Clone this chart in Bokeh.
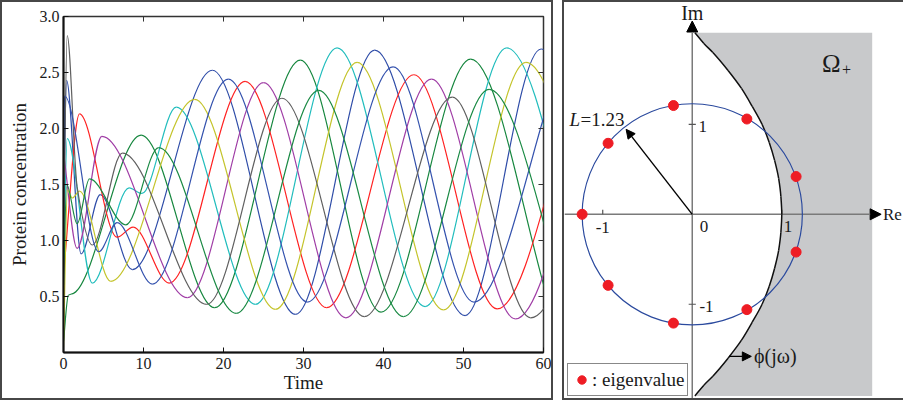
import numpy as np
from bokeh.plotting import figure
from bokeh.layouts import row
from bokeh.models import (Arrow, NormalHead, Legend, LegendItem, FixedTicker,
                          Range1d, NumeralTickFormatter)
from bokeh.core.properties import value
from bokeh.embed import file_html
from bokeh.resources import INLINE

FONT = "Liberation Serif"

# ---------------- left panel data (extrema) ----------------
time_ticks = [0, 10, 20, 30, 40, 50, 60]
conc_ticks = [0.5, 1.0, 1.5, 2.0, 2.5, 3.0]

blue1_t = [0, 0.38, 2.2, 4.6, 8.6, 18.6, 29.0, 38.9, 50.2, 59.7, 70.5]
blue1_y = [1.2, 2.43, 0.88, 1.41, 0.74, 2.52, 0.34, 2.70, 0.33, 2.71, 0.33]

greenA_t = [0, 0.6, 1.3, 9.7, 18.9, 29.6, 39.7, 50.9, 61.0]
greenA_y = [0.1, 0.51, 0.53, 1.94, 0.40, 2.61, 0.36, 2.62, 0.36]

red_t = [0, 2.0, 6.7, 8.7, 13.2, 22.7, 32.9, 43.8, 54.2, 64.8]
red_y = [0.7, 2.13, 1.03, 1.12, 0.62, 2.42, 0.40, 2.48, 0.39, 2.48]

cyan_t = [0, 0.46, 3.6, 8.2, 9.8, 14.1, 24.0, 34.2, 45.2, 55.4, 66.0]
cyan_y = [0.8, 1.91, 0.62, 1.47, 1.42, 2.19, 0.43, 2.72, 0.41, 2.72, 0.41]

magenta_t = [0, 1.7, 4.8, 15.5, 25.0, 35.3, 46.0, 56.5, 67.0]
magenta_y = [1.79, 0.93, 1.93, 0.49, 2.41, 0.31, 2.44, 0.30, 2.44]

yellow_t = [0, 0.5, 1.1, 2.0, 5.9, 16.4, 26.5, 36.7, 47.5, 57.8, 68.5]
yellow_y = [0.05, 1.45, 1.38, 1.44, 0.635, 2.26, 0.385, 2.59, 0.38, 2.59, 0.38]

gray_t = [0, 0.46, 1.7, 3.6, 7.35, 17.9, 27.3, 37.6, 48.6, 58.4, 69.5]
gray_y = [0.9, 2.83, 1.48, 0.96, 1.78, 0.43, 2.27, 0.32, 2.28, 0.31, 2.28]

blue2_t = [0, 0.13, 4.4, 6.7, 11.1, 20.6, 30.5, 41.2, 51.3, 62.0]
blue2_y = [1.8, 2.29, 0.90, 1.16, 0.61, 2.44, 0.45, 2.55, 0.45, 2.55]

greenB_t = [0, 0.4, 1.7, 3.25, 7.8, 11.9, 21.6, 31.9, 42.5, 53.2, 63.5]
greenB_y = [0.6, 1.50, 1.15, 1.55, 1.14, 1.83, 0.35, 2.34, 0.32, 2.35, 0.32]

series = [
    (blue1_t, blue1_y, "#2F4DA8"),
    (greenA_t, greenA_y, "#17873F"),
    (red_t, red_y, "#FF2222"),
    (cyan_t, cyan_y, "#22BDBD"),
    (magenta_t, magenta_y, "#A03EA6"),
    (yellow_t, yellow_y, "#C4C42C"),
    (gray_t, gray_y, "#606060"),
    (blue2_t, blue2_y, "#3553AE"),
    (greenB_t, greenB_y, "#1A8A44"),
]

# ---------------- right panel data ----------------
L_radius = 1.23
eig_re = [-1.23, -0.94, -0.94, -0.21, -0.21, 0.61, 0.61, 1.16, 1.16]
eig_im = [0.0, 0.79, -0.79, 1.21, -1.21, 1.06, -1.06, 0.42, -0.42]

phi_im = [-2.02, -1.9, -1.8, -1.6, -1.4, -1.2, -1.0, -0.8, -0.6, -0.4, -0.2, 0.0,
          0.2, 0.4, 0.6, 0.8, 1.0, 1.2, 1.4, 1.6, 1.8, 1.9, 2.02]
phi_re = [0.03, 0.13, 0.23, 0.40, 0.55, 0.67, 0.78, 0.86, 0.92, 0.965, 0.99, 1.0,
          0.99, 0.965, 0.92, 0.86, 0.78, 0.67, 0.55, 0.40, 0.23, 0.13, 0.03]
omega_right = 2.01

plane_ticks = [-1, 1]


def smooth_segments(xs, ys):
    """Monotone cubic (Fritsch-Carlson) tangents -> cubic bezier control points."""
    xs = np.asarray(xs, float)
    ys = np.asarray(ys, float)
    h = np.diff(xs)
    d = np.diff(ys) / h
    n = len(xs)
    m = np.zeros(n)
    m[0] = d[0]
    m[-1] = d[-1]
    for i in range(1, n - 1):
        if d[i - 1] * d[i] <= 0:
            m[i] = 0.0
        else:
            w1 = 2 * h[i] + h[i - 1]
            w2 = h[i] + 2 * h[i - 1]
            m[i] = (w1 + w2) / (w1 / d[i - 1] + w2 / d[i])
    return dict(x0=xs[:-1], y0=ys[:-1], x1=xs[1:], y1=ys[1:],
                cx0=xs[:-1] + h / 3, cy0=ys[:-1] + m[:-1] * h / 3,
                cx1=xs[1:] - h / 3, cy1=ys[1:] - m[1:] * h / 3)


BORDER = "2px solid #474747"

# ---------------- left figure ----------------
p = figure(width=553, height=400, x_range=Range1d(0, 60), y_range=Range1d(0, 3),
           output_backend="svg", toolbar_location=None, frame_align=False,
           min_border_left=61, min_border_right=12, min_border_top=14, min_border_bottom=50,
           x_axis_label="Time", y_axis_label="Protein concentration")
p.styles = {"border": BORDER}
p.grid.visible = False
p.outline_line_color = "#333333"
p.outline_line_width = 1.5

for t, y, c in series:
    seg = smooth_segments(t, y)
    p.bezier(x0=seg["x0"], y0=seg["y0"], x1=seg["x1"], y1=seg["y1"],
             cx0=seg["cx0"], cy0=seg["cy0"], cx1=seg["cx1"], cy1=seg["cy1"],
             line_color=c, line_width=1.2)

for ax in (p.xaxis[0], p.yaxis[0]):
    ax.axis_line_color = "#111111"
    ax.axis_line_width = 2
    ax.major_tick_in = 5
    ax.major_tick_out = 0
    ax.major_tick_line_color = "#111111"
    ax.minor_tick_line_color = None
    ax.major_label_text_font = FONT
    ax.major_label_text_font_size = "16px"
    ax.major_label_text_color = "#1a1a1a"
    ax.axis_label_text_font = FONT
    ax.axis_label_text_font_size = "19px"
    ax.axis_label_text_font_style = "normal"
    ax.axis_label_text_color = "#1a1a1a"
p.xaxis.ticker = FixedTicker(ticks=time_ticks)
p.yaxis.ticker = FixedTicker(ticks=conc_ticks)
p.yaxis.formatter = NumeralTickFormatter(format="0.0")
p.xaxis.major_label_standoff = 5
p.xaxis.axis_label_standoff = 0
p.yaxis.major_label_standoff = 4
p.yaxis.axis_label_standoff = 7

# inner ticks on the top and right edges of the box
top_len = 3.0 * 5 / 332
right_len = 60.0 * 5 / 476
p.segment(x0=time_ticks, y0=[3.0] * len(time_ticks), x1=time_ticks, y1=[3.0 - top_len] * len(time_ticks),
          line_color="#333333", line_width=1)
p.segment(x0=[60.0] * len(conc_ticks), y0=conc_ticks, x1=[60.0 - right_len] * len(conc_ticks), y1=conc_ticks,
          line_color="#333333", line_width=1)

# ---------------- right figure ----------------
q = figure(width=341, height=400, x_range=Range1d(-1.427, 2.382), y_range=Range1d(-2.093, 2.356),
           output_backend="svg", toolbar_location=None, x_axis_type=None, y_axis_type=None,
           frame_align=False,
           min_border=0, min_border_left=0, min_border_right=0, min_border_top=0, min_border_bottom=0)
q.styles = {"border-left": BORDER, "border-top": BORDER, "border-bottom": BORDER}
q.grid.visible = False
q.outline_line_color = None

# shaded region Omega_+
q.harea(y=phi_im, x1=phi_re, x2=omega_right, fill_color="#C8C9CB", level="underlay")

# axes with arrowheads
q.add_layout(Arrow(x_start=-1.427, y_start=0, x_end=2.11, y_end=0, line_color="#7a7a7a", line_width=1.5,
                   end=NormalHead(size=11, fill_color="black", line_color="black"), level="underlay"))
q.add_layout(Arrow(x_start=0, y_start=-2.093, x_end=0, y_end=2.15, line_color="#7a7a7a", line_width=1.5,
                   end=NormalHead(size=11, fill_color="black", line_color="black"), level="underlay"))
# axis ticks
q.segment(x0=plane_ticks, y0=[0, 0], x1=plane_ticks, y1=[0.05, 0.05], line_color="#555555", line_width=1.2)
q.segment(x0=[-0.04, -0.04], y0=plane_ticks, x1=[0.04, 0.04], y1=plane_ticks, line_color="#555555", line_width=1.2)

# phi(jw) curve
seg = smooth_segments(phi_im, phi_re)
q.bezier(x0=seg["y0"], y0=seg["x0"], x1=seg["y1"], y1=seg["x1"],
         cx0=seg["cy0"], cy0=seg["cx0"], cx1=seg["cy1"], cy1=seg["cx1"],
         line_color="#111111", line_width=1.5)

# circle of radius L
q.ellipse(x=[0], y=[0], width=2 * L_radius, height=2 * L_radius, fill_color=None,
          line_color="#2B4A9E", line_width=1.2)

# eigenvalues
eig_r = q.scatter(x=eig_re, y=eig_im, size=10, fill_color="#EE1C24", line_color="#EE1C24")

# radius arrow
ang = np.deg2rad(128)
q.add_layout(Arrow(x_start=0, y_start=0, x_end=1.2 * np.cos(ang), y_end=1.2 * np.sin(ang),
                   line_color="black", line_width=1.4,
                   end=NormalHead(size=9, fill_color="black", line_color="black")))
# phi arrow
q.add_layout(Arrow(x_start=0.41, y_start=-1.58, x_end=0.66, y_end=-1.58, line_color="black", line_width=1.4,
                   end=NormalHead(size=9, fill_color="black", line_color="black")))

txt = dict(text_font=value(FONT), text_color="#1a1a1a", text_baseline="middle")
q.text(x=[0], y=[2.24], text=["Im"], text_align="center", text_font_size="20px", **txt)
q.text(x=[2.13], y=[0.0], text=["Re"], text_align="left", text_font_size="17px", **txt)
q.text(x=[0.13], y=[-0.13], text=["0"], text_align="center", text_font_size="17px", **txt)
q.text(x=[-1.0], y=[-0.15], text=["-1"], text_align="center", text_font_size="17px", **txt)
q.text(x=[1.07], y=[-0.13], text=["1"], text_align="center", text_font_size="17px", **txt)
q.text(x=[0.07], y=[0.98], text=["1"], text_align="left", text_font_size="17px", **txt)
q.text(x=[0.08], y=[-1.02], text=["-1"], text_align="left", text_font_size="17px", **txt)
q.text(x=[-1.37], y=[1.06], text=["L"], text_align="left", text_font_size="19px",
       text_font_style="italic", **txt)
q.text(x=[-1.37], y=[1.06], x_offset=11, text=["=1.23"], text_align="left", text_font_size="19px", **txt)
q.text(x=[0.69], y=[-1.58], text=["\u03d5(j\u03c9)"], text_align="left", text_font_size="20px", **txt)
q.text(x=[1.45], y=[1.68], text=["\u03a9"], text_align="left", text_font_size="25px", **txt)
q.text(x=[1.45], y=[1.61], x_offset=20, text=["+"], text_align="left", text_font_size="16px", **txt)

legend = Legend(items=[LegendItem(label=": eigenvalue", renderers=[eig_r])], location=(3, 6),
                border_line_color="#111111", border_line_width=1, background_fill_color="white",
                background_fill_alpha=1, padding=3, margin=0, spacing=0,
                label_text_font=FONT, label_text_font_size="19px", label_text_color="#1a1a1a",
                glyph_width=21, glyph_height=25, label_standoff=0, label_height=25)
q.add_layout(legend)

layout = row(p, q, spacing=9)
open("out.html", "w").write(file_html(layout, INLINE))
